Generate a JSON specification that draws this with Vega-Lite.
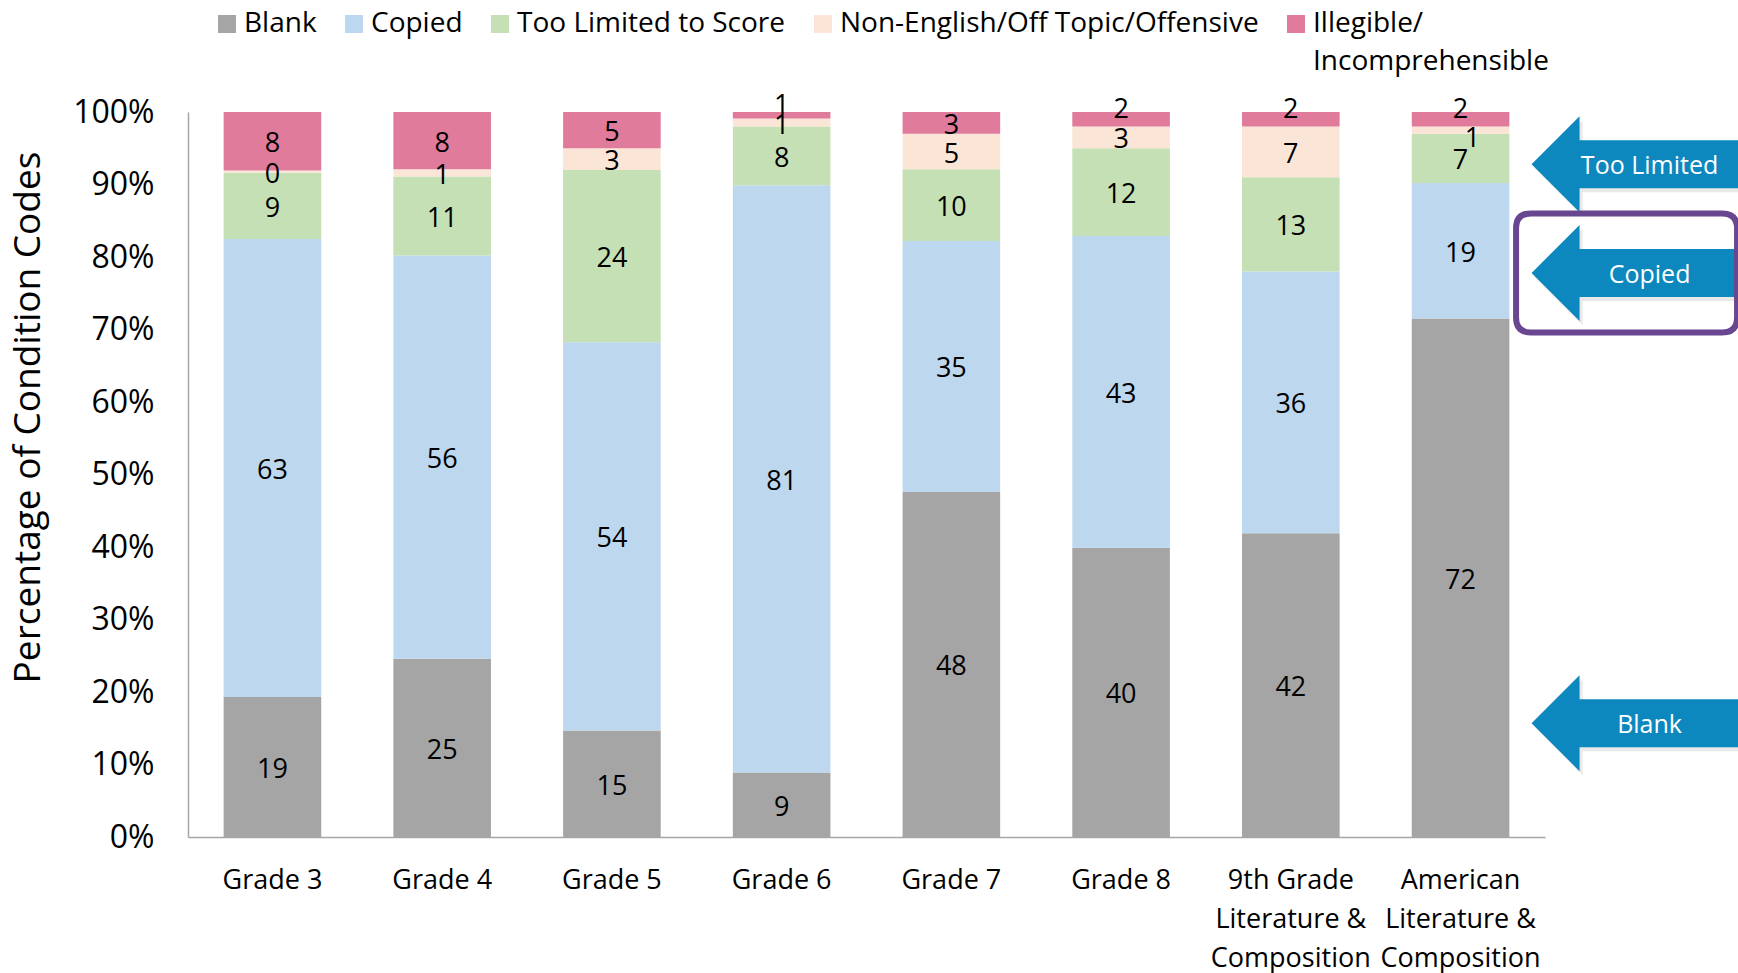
{
  "$schema": "https://vega.github.io/schema/vega-lite/v6.json",
  "width": 1357,
  "height": 725,
  "autosize": {"type": "none"},
  "padding": {"left": 188, "top": 112, "right": 193, "bottom": 136},
  "background": "white",
  "config": {"font": "Open Sans", "view": {"stroke": null}},
  "datasets": {
    "codes": [
      {"grade": "Grade 3", "code": "Blank", "rank": 1, "value": 19.4},
      {"grade": "Grade 3", "code": "Copied", "rank": 2, "value": 63.4},
      {"grade": "Grade 3", "code": "Too Limited to Score", "rank": 3, "value": 9.2},
      {"grade": "Grade 3", "code": "Non-English/Off Topic/Offensive", "rank": 4, "value": 0.3},
      {"grade": "Grade 3", "code": "Illegible/|Incomprehensible", "rank": 5, "value": 8.1},
      {"grade": "Grade 4", "code": "Blank", "rank": 1, "value": 24.6},
      {"grade": "Grade 4", "code": "Copied", "rank": 2, "value": 55.6},
      {"grade": "Grade 4", "code": "Too Limited to Score", "rank": 3, "value": 10.9},
      {"grade": "Grade 4", "code": "Non-English/Off Topic/Offensive", "rank": 4, "value": 1.0},
      {"grade": "Grade 4", "code": "Illegible/|Incomprehensible", "rank": 5, "value": 7.9},
      {"grade": "Grade 5", "code": "Blank", "rank": 1, "value": 14.7},
      {"grade": "Grade 5", "code": "Copied", "rank": 2, "value": 53.6},
      {"grade": "Grade 5", "code": "Too Limited to Score", "rank": 3, "value": 23.8},
      {"grade": "Grade 5", "code": "Non-English/Off Topic/Offensive", "rank": 4, "value": 3.0},
      {"grade": "Grade 5", "code": "Illegible/|Incomprehensible", "rank": 5, "value": 5.0},
      {"grade": "Grade 6", "code": "Blank", "rank": 1, "value": 8.9},
      {"grade": "Grade 6", "code": "Copied", "rank": 2, "value": 81.0},
      {"grade": "Grade 6", "code": "Too Limited to Score", "rank": 3, "value": 8.1},
      {"grade": "Grade 6", "code": "Non-English/Off Topic/Offensive", "rank": 4, "value": 1.1},
      {"grade": "Grade 6", "code": "Illegible/|Incomprehensible", "rank": 5, "value": 0.9},
      {"grade": "Grade 7", "code": "Blank", "rank": 1, "value": 47.6},
      {"grade": "Grade 7", "code": "Copied", "rank": 2, "value": 34.6},
      {"grade": "Grade 7", "code": "Too Limited to Score", "rank": 3, "value": 9.9},
      {"grade": "Grade 7", "code": "Non-English/Off Topic/Offensive", "rank": 4, "value": 4.9},
      {"grade": "Grade 7", "code": "Illegible/|Incomprehensible", "rank": 5, "value": 3.0},
      {"grade": "Grade 8", "code": "Blank", "rank": 1, "value": 39.9},
      {"grade": "Grade 8", "code": "Copied", "rank": 2, "value": 43.0},
      {"grade": "Grade 8", "code": "Too Limited to Score", "rank": 3, "value": 12.1},
      {"grade": "Grade 8", "code": "Non-English/Off Topic/Offensive", "rank": 4, "value": 3.0},
      {"grade": "Grade 8", "code": "Illegible/|Incomprehensible", "rank": 5, "value": 2.0},
      {"grade": "9th Grade|Literature &|Composition", "code": "Blank", "rank": 1, "value": 41.9},
      {"grade": "9th Grade|Literature &|Composition", "code": "Copied", "rank": 2, "value": 36.1},
      {"grade": "9th Grade|Literature &|Composition", "code": "Too Limited to Score", "rank": 3, "value": 13.0},
      {"grade": "9th Grade|Literature &|Composition", "code": "Non-English/Off Topic/Offensive", "rank": 4, "value": 7.0},
      {"grade": "9th Grade|Literature &|Composition", "code": "Illegible/|Incomprehensible", "rank": 5, "value": 2.0},
      {"grade": "American|Literature &|Composition", "code": "Blank", "rank": 1, "value": 71.6},
      {"grade": "American|Literature &|Composition", "code": "Copied", "rank": 2, "value": 18.7},
      {"grade": "American|Literature &|Composition", "code": "Too Limited to Score", "rank": 3, "value": 6.8},
      {"grade": "American|Literature &|Composition", "code": "Non-English/Off Topic/Offensive", "rank": 4, "value": 1.0},
      {"grade": "American|Literature &|Composition", "code": "Illegible/|Incomprehensible", "rank": 5, "value": 2.0}
    ],
    "notes": [
      {"label": "Too Limited", "level": 0.928},
      {"label": "Copied", "level": 0.778},
      {"label": "Blank", "level": 0.157}
    ]
  },
  "layer": [
    {
      "data": {"name": "codes"},
      "mark": {"type": "bar"},
      "encoding": {
        "x": {
          "field": "grade", "type": "nominal", "sort": null,
          "scale": {"type": "band", "paddingInner": 0.425, "paddingOuter": 0.21},
          "axis": {
            "title": null, "labelAngle": 0, "labelExpr": "split(datum.label, '|')",
            "labelFontSize": 27, "labelLineHeight": 39, "labelPadding": 30, "labelColor": "black",
            "labelLimit": 0, "ticks": false, "domainColor": "#A6A6A6", "domainWidth": 1.5
          }
        },
        "y": {
          "field": "value", "type": "quantitative", "stack": "normalize",
          "scale": {"domain": [0, 1]},
          "axis": {
            "title": "Percentage of Condition Codes", "titleFontSize": 37, "titleFontWeight": "normal",
            "titleColor": "black", "titlePadding": 25, "titleY": 305, "format": ".0%",
            "values": [0, 0.1, 0.2, 0.3, 0.4, 0.5, 0.6, 0.7, 0.8, 0.9, 1],
            "labelFontSize": 32, "labelColor": "black", "labelPadding": 34,
            "ticks": false, "grid": false, "domainColor": "#A6A6A6", "domainWidth": 1.5
          }
        },
        "color": {
          "field": "code", "type": "nominal",
          "scale": {
            "domain": ["Blank", "Copied", "Too Limited to Score", "Non-English/Off Topic/Offensive", "Illegible/|Incomprehensible"],
            "range": ["#A5A5A5", "#BDD7EE", "#C5E0B4", "#FBE5D6", "#E07B9C"]
          },
          "legend": {
            "title": null, "orient": "none", "legendX": 25, "legendY": -102, "direction": "horizontal",
            "symbolType": "square", "symbolSize": 324, "symbolStrokeWidth": 0,
            "labelFontSize": 28, "labelColor": "black", "labelOffset": 3, "columnPadding": 23,
            "labelLimit": 0,
            "labelExpr": "indexof(datum.label, '|') >= 0 ? split(datum.label, '|') : [datum.label, ' ']",
            "encode": {"labels": {"update": {"lineHeight": {"value": 38}}}}
          }
        },
        "order": {"field": "rank", "type": "quantitative", "sort": "ascending"}
      }
    },
    {
      "data": {"name": "codes"},
      "mark": {"type": "text", "fontSize": 27, "color": "black", "baseline": "middle", "dy": 3},
      "encoding": {
        "x": {"field": "grade", "type": "nominal", "sort": null},
        "y": {"field": "value", "type": "quantitative", "stack": "normalize", "bandPosition": 0.5},
        "detail": {"field": "code", "type": "nominal"},
        "order": {"field": "rank", "type": "quantitative", "sort": "ascending"},
        "text": {"field": "value", "type": "quantitative", "format": ".0f"},
        "opacity": {"condition": {"test": "(datum.rank === 5 && datum.value < 2.5) || (datum.rank === 4 && datum.value < 1.05 && indexof(datum.grade, 'American') === 0)", "value": 0}, "value": 1}
      }
    },
    {
      "data": {"name": "codes"},
      "mark": {"type": "text", "fontSize": 27, "color": "black", "baseline": "middle", "dy": -9},
      "encoding": {
        "x": {"field": "grade", "type": "nominal", "sort": null},
        "y": {"field": "value", "type": "quantitative", "stack": "normalize", "bandPosition": 0.5},
        "detail": {"field": "code", "type": "nominal"},
        "order": {"field": "rank", "type": "quantitative", "sort": "ascending"},
        "text": {"field": "value", "type": "quantitative", "format": ".0f"},
        "opacity": {"condition": {"test": "datum.rank === 5 && datum.value < 2.5", "value": 1}, "value": 0}
      }
    },
    {
      "data": {"name": "codes"},
      "mark": {"type": "text", "fontSize": 27, "color": "black", "baseline": "middle", "dy": 9, "dx": 12},
      "encoding": {
        "x": {"field": "grade", "type": "nominal", "sort": null},
        "y": {"field": "value", "type": "quantitative", "stack": "normalize", "bandPosition": 0.5},
        "detail": {"field": "code", "type": "nominal"},
        "order": {"field": "rank", "type": "quantitative", "sort": "ascending"},
        "text": {"field": "value", "type": "quantitative", "format": ".0f"},
        "opacity": {"condition": {"test": "datum.rank === 4 && datum.value < 1.05 && indexof(datum.grade, 'American') === 0", "value": 1}, "value": 0}
      }
    },
    {
      "data": {"name": "notes"},
      "mark": {
        "type": "point", "shape": "M -1 0 L 0 -1 L 0 -0.5 L 3.6 -0.5 L 3.6 0.5 L 0 0.5 L 0 1 Z",
        "size": 9216, "filled": true, "color": "#555555", "opacity": 0.13, "strokeWidth": 0, "xOffset": 122, "yOffset": 4
      },
      "encoding": {
        "x": {"datum": "American|Literature &|Composition", "type": "nominal"},
        "y": {"field": "level", "type": "quantitative", "stack": null}
      }
    },
    {
      "data": {"name": "notes"},
      "mark": {
        "type": "point", "shape": "M -1 0 L 0 -1 L 0 -0.5 L 3.6 -0.5 L 3.6 0.5 L 0 0.5 L 0 1 Z",
        "size": 9216, "filled": true, "color": "#0C88BE", "opacity": 1, "strokeWidth": 0, "xOffset": 119
      },
      "encoding": {
        "x": {"datum": "American|Literature &|Composition", "type": "nominal"},
        "y": {"field": "level", "type": "quantitative", "stack": null}
      }
    },
    {
      "data": {"name": "notes"},
      "transform": [{"filter": "datum.label === 'Copied'"}],
      "mark": {
        "type": "point",
        "shape": "M -1.607 -1 L 1.607 -1 Q 1.857 -1 1.857 -0.75 L 1.857 0.75 Q 1.857 1 1.607 1 L -1.607 1 Q -1.857 1 -1.857 0.75 L -1.857 -0.75 Q -1.857 -1 -1.607 -1 Z",
        "size": 14161, "filled": false, "stroke": "#684790", "strokeWidth": 6, "opacity": 1, "xOffset": 166
      },
      "encoding": {
        "x": {"datum": "American|Literature &|Composition", "type": "nominal"},
        "y": {"field": "level", "type": "quantitative", "stack": null}
      }
    },
    {
      "data": {"name": "notes"},
      "mark": {"type": "text", "fontSize": 25, "color": "white", "baseline": "middle", "align": "center", "xOffset": 189, "dy": 2},
      "encoding": {
        "x": {"datum": "American|Literature &|Composition", "type": "nominal"},
        "y": {"field": "level", "type": "quantitative", "stack": null},
        "text": {"field": "label", "type": "nominal"}
      }
    }
  ]
}
